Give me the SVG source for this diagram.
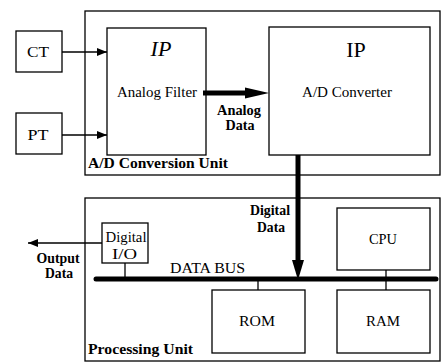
<svg xmlns="http://www.w3.org/2000/svg" width="444" height="363" viewBox="0 0 444 363">
<style>
.box{fill:none;stroke:#000;stroke-width:1.3}
.ln{fill:none;stroke:#000;stroke-width:1.3}
.thick{fill:none;stroke:#000;stroke-width:5}
text{font-family:'Liberation Serif','DejaVu Serif',serif;fill:#000;text-anchor:middle}
.t{font-size:14px}
.b{font-weight:bold}
.ip{font-size:22px}
</style>
<defs>
<marker id="ah" viewBox="0 0 10 8" refX="10" refY="4" markerWidth="10" markerHeight="8" markerUnits="userSpaceOnUse" orient="auto">
<path d="M0,0 L10,4 L0,8 Z" fill="#000"/>
</marker>
</defs>
<rect width="444" height="363" fill="#fff"/>
<g id="ad-unit">
<rect class="box" x="85" y="11" width="355" height="164"/>
<text class="t b" x="158" y="168" textLength="140" lengthAdjust="spacingAndGlyphs">A/D Conversion Unit</text>
</g>
<g id="proc-unit">
<rect class="box" x="85" y="198" width="355" height="163"/>
<text class="t b" x="140.5" y="354" textLength="105" lengthAdjust="spacingAndGlyphs">Processing Unit</text>
</g>
<g id="ct">
<rect class="box" x="16" y="31" width="46" height="41"/>
<text class="t" x="38" y="57" textLength="22" lengthAdjust="spacingAndGlyphs">CT</text>
</g>
<g id="pt">
<rect class="box" x="16" y="113" width="46" height="41"/>
<text class="t" x="38" y="140" textLength="21" lengthAdjust="spacingAndGlyphs">PT</text>
</g>
<g id="filter">
<rect class="box" x="107" y="28" width="99" height="127"/>
<text class="ip" x="161" y="56" font-style="italic">IP</text>
<text class="t" x="157" y="97" textLength="80" lengthAdjust="spacingAndGlyphs">Analog Filter</text>
</g>
<g id="converter">
<rect class="box" x="269" y="27" width="161" height="128"/>
<text class="ip" x="356" y="57">IP</text>
<text class="t" x="347" y="97" textLength="90" lengthAdjust="spacingAndGlyphs">A/D Converter</text>
</g>
<g id="dio">
<rect class="box" x="102" y="223" width="46" height="40"/>
<text class="t" x="126" y="242" textLength="41" lengthAdjust="spacingAndGlyphs">Digital</text>
<text class="t" x="124.5" y="259" textLength="25" lengthAdjust="spacingAndGlyphs">I/O</text>
</g>
<g id="cpu">
<rect class="box" x="337" y="208" width="93" height="62"/>
<text class="t" x="383" y="244" textLength="28" lengthAdjust="spacingAndGlyphs">CPU</text>
</g>
<g id="rom">
<rect class="box" x="212" y="290" width="93" height="63"/>
<text class="t" x="257" y="326" textLength="36" lengthAdjust="spacingAndGlyphs">ROM</text>
</g>
<g id="ram">
<rect class="box" x="337" y="290" width="93" height="63"/>
<text class="t" x="383" y="326" textLength="34" lengthAdjust="spacingAndGlyphs">RAM</text>
</g>
<g id="connectors">
<line class="ln" x1="62" y1="52" x2="107" y2="52" marker-end="url(#ah)"/>
<line class="ln" x1="62" y1="135" x2="107" y2="135" marker-end="url(#ah)"/>
<line class="thick" x1="203" y1="93" x2="247" y2="93"/>
<polygon points="245,87.5 269,93 245,98.5" fill="#000"/>
<text class="t b" x="239" y="115" textLength="44" lengthAdjust="spacingAndGlyphs">Analog</text>
<text class="t b" x="240" y="130" textLength="29" lengthAdjust="spacingAndGlyphs">Data</text>
<line class="thick" x1="298" y1="155" x2="298" y2="262"/>
<polygon points="292,260 298,280 304,260" fill="#000"/>
<text class="t b" x="270" y="215" textLength="40" lengthAdjust="spacingAndGlyphs">Digital</text>
<text class="t b" x="271" y="232" textLength="28" lengthAdjust="spacingAndGlyphs">Data</text>
<line x1="96" y1="279" x2="436" y2="279" stroke="#000" stroke-width="5" stroke-linecap="round"/>
<text class="t" x="207.5" y="273" textLength="75" lengthAdjust="spacingAndGlyphs">DATA BUS</text>
<line class="ln" x1="125" y1="263" x2="125" y2="279"/>
<line class="ln" x1="102" y1="243" x2="28" y2="243" marker-end="url(#ah)"/>
<text class="t b" x="58" y="263" textLength="43" lengthAdjust="spacingAndGlyphs">Output</text>
<text class="t b" x="59" y="278" textLength="28" lengthAdjust="spacingAndGlyphs">Data</text>
<line class="ln" x1="386" y1="270" x2="386" y2="290"/>
<line class="ln" x1="258" y1="279" x2="258" y2="290"/>
</g>
</svg>
